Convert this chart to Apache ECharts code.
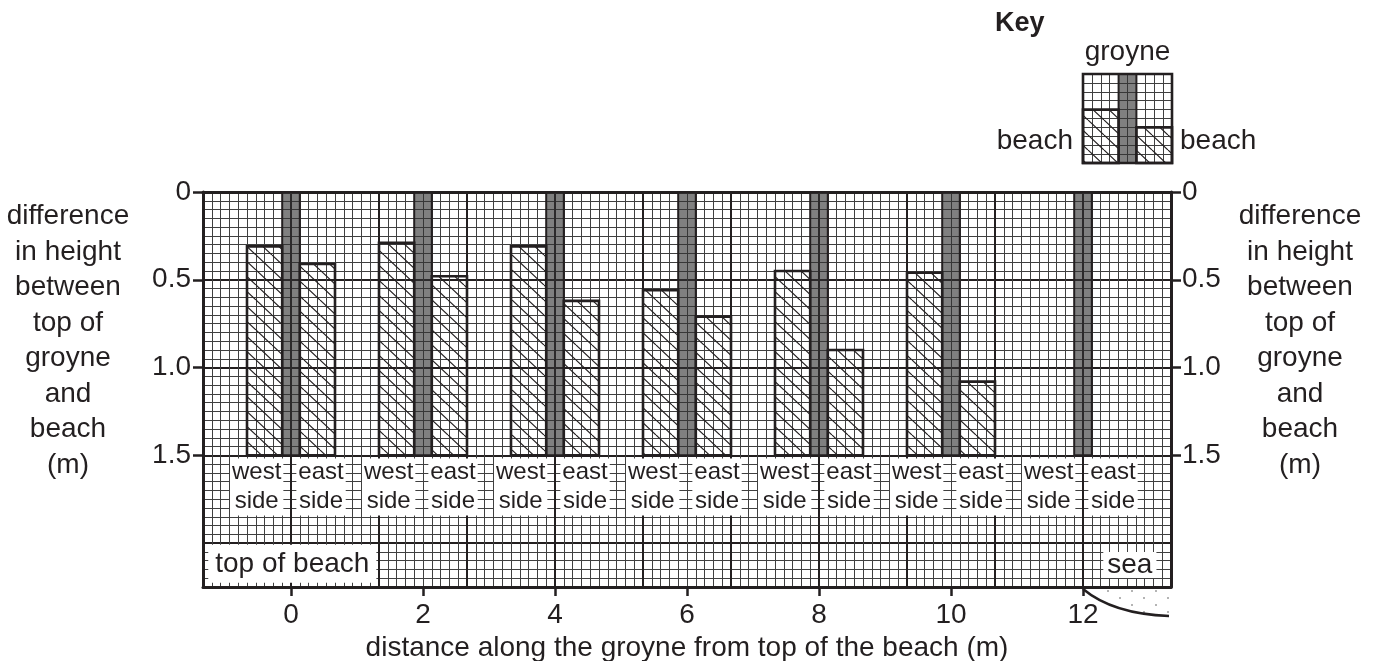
<!DOCTYPE html>
<html>
<head>
<meta charset="utf-8">
<script src="https://cdn.jsdelivr.net/npm/echarts@6/dist/echarts.min.js"></script>
<style>
html,body{margin:0;padding:0;background:#fff;}
#chart{width:1381px;height:661px;}
</style>
</head>
<body>
<div id="chart"></div>
<script>
// ---------------- data ----------------
const distances = [0, 2, 4, 6, 8, 10, 12];
const westSide  = [0.31, 0.29, 0.31, 0.56, 0.45, 0.46, null];
const eastSide  = [0.41, 0.48, 0.62, 0.71, 0.90, 1.08, null];
const groyneTop = [0, 0, 0, 0, 0, 0, 0];
const beachBase = 1.5;
const xTickValues = [0, 2, 4, 6, 8, 10, 12];
const yTickValues = [0, 0.5, 1.0, 1.5];
const sideLabels = ['west\nside', 'east\nside'];
const endLabels = ['top of beach', 'sea'];
const keyWestTop = 4;   // key sample, in key squares
const keyEastTop = 6;
const keyLabels = { title: 'Key', groyne: 'groyne', beach: 'beach' };
const xAxisName = 'distance along the groyne from top of the beach (m)';
const yAxisName = 'difference\nin height\nbetween\ntop of\ngroyne\nand\nbeach\n(m)';

// ---------------- style / geometry ----------------
const INK = '#231f20';
const FONT = '"Liberation Sans", Arial, Helvetica, sans-serif';
const X_MIN = -4 / 3, X_MAX = 40 / 3, Y_MAX = 2.25;
const SQ = 2 / 15;               // one small graph-paper square in x units
const MINOR = { color: '#404040', width: 1 };
const MAJOR = { color: INK, width: 2 };

function makeHatch() {
  const w = 16, h = 15;
  const c = document.createElement('canvas');
  c.width = w; c.height = h;
  const g = c.getContext('2d');
  g.strokeStyle = INK; g.lineWidth = 1.2;
  g.beginPath();
  for (let k = -1; k <= 1; k++) {
    g.moveTo(k * w, 0); g.lineTo(k * w + w, h);
  }
  g.stroke();
  return { image: c, repeat: 'repeat' };
}
function makeDots() {
  const c = document.createElement('canvas');
  c.width = 24; c.height = 14;
  const g = c.getContext('2d');
  g.fillStyle = '#555';
  [[4, 3], [16, 10]].forEach(p => { g.beginPath(); g.arc(p[0], p[1], 0.8, 0, Math.PI * 2); g.fill(); });
  return { image: c, repeat: 'repeat' };
}
const hatch = makeHatch();
const dots = makeDots();

function rectBetween(api, a, b) {
  const p0 = api.coord(a), p1 = api.coord(b);
  return {
    x: Math.min(p0[0], p1[0]), y: Math.min(p0[1], p1[1]),
    width: Math.abs(p1[0] - p0[0]), height: Math.abs(p1[1] - p0[1])
  };
}

const hidden = { axisLine: { show: false }, axisTick: { show: false }, axisLabel: { show: false } };
const nameStyle = { font: '28px ' + FONT, fill: INK, textAlign: 'center', textVerticalAlign: 'top', lineHeight: 35.5 };

const option = {
  animation: false,
  backgroundColor: '#fff',
  textStyle: { fontFamily: FONT, color: INK },
  graphic: [
    { type: 'text', left: 68 - 70, top: 199, style: Object.assign({ text: yAxisName, width: 140, align: 'center' }, nameStyle) },
    { type: 'text', left: 1300 - 70, top: 199, style: Object.assign({ text: yAxisName, width: 140, align: 'center' }, nameStyle) }
  ],
  grid: [
    { left: 203, right: 210, top: 192, bottom: 74, outerBoundsMode: 'none', containLabel: false },
    { left: 1083, top: 74, width: 89, height: 89, outerBoundsMode: 'none', containLabel: false }
  ],
  xAxis: [
    { // 0 visible distance axis
      type: 'value', gridIndex: 0, position: 'bottom', min: X_MIN, max: X_MAX,
      axisLine: { show: true, onZero: false, lineStyle: { color: INK, width: 3 } },
      axisTick: { show: true, customValues: xTickValues, length: 9, lineStyle: { color: INK, width: 2.5 } },
      axisLabel: { show: true, customValues: xTickValues, margin: 14, fontSize: 28, color: INK, fontFamily: FONT,
                   formatter: v => String(v) },
      splitLine: { show: false },
      name: xAxisName, nameLocation: 'middle', nameGap: 44,
      nameTextStyle: { fontSize: 28, color: INK, fontFamily: FONT }
    },
    Object.assign({ type: 'value', gridIndex: 0, position: 'bottom', min: 0, max: 110, interval: 1,
      splitLine: { show: true, lineStyle: MINOR } }, hidden),
    { type: 'value', gridIndex: 0, position: 'top', min: 0, max: 110, interval: 10,
      axisLine: { show: true, onZero: false, lineStyle: { color: INK, width: 3 } },
      axisTick: { show: false }, axisLabel: { show: false },
      splitLine: { show: true, lineStyle: MAJOR } },
    Object.assign({ type: 'value', gridIndex: 1, min: 0, max: 10, interval: 1,
      splitLine: { show: true, lineStyle: MINOR } }, hidden)
  ],
  yAxis: [
    { // 0 left visible
      type: 'value', gridIndex: 0, position: 'left', inverse: true, min: 0, max: Y_MAX,
      axisLine: { show: true, onZero: false, lineStyle: { color: INK, width: 3 } },
      axisTick: { show: true, customValues: yTickValues, length: 10, lineStyle: { color: INK, width: 2.5 } },
      axisLabel: { show: true, customValues: yTickValues, margin: 12, fontSize: 28, color: INK, fontFamily: FONT,
                   formatter: v => (v === 0 ? '0' : v.toFixed(1)) },
      splitLine: { show: false }
    },
    { // 1 right visible
      type: 'value', gridIndex: 0, position: 'right', inverse: true, min: 0, max: Y_MAX,
      axisLine: { show: true, onZero: false, lineStyle: { color: INK, width: 3 } },
      axisTick: { show: true, customValues: yTickValues, length: 10, lineStyle: { color: INK, width: 2.5 } },
      axisLabel: { show: true, customValues: yTickValues, margin: 11, fontSize: 28, color: INK, fontFamily: FONT,
                   formatter: v => (v === 0 ? '0' : v.toFixed(1)) },
      splitLine: { show: false }
    },
    Object.assign({ type: 'value', gridIndex: 0, position: 'left', inverse: true, min: 0, max: 45, interval: 1,
      splitLine: { show: true, lineStyle: MINOR } }, hidden),
    Object.assign({ type: 'value', gridIndex: 0, position: 'right', inverse: true, min: 0, max: 45, interval: 10,
      splitLine: { show: true, lineStyle: MAJOR } }, hidden),
    Object.assign({ type: 'value', gridIndex: 1, inverse: true, min: 0, max: 10, interval: 1,
      splitLine: { show: true, lineStyle: MINOR } }, hidden)
  ],
  series: [
    { // groyne
      name: 'groyne', type: 'custom', xAxisIndex: 0, yAxisIndex: 0, z: 3,
      data: distances.map((d, i) => [d, groyneTop[i]]),
      encode: { x: 0, y: 1 },
      renderItem: (params, api) => ({
        type: 'rect',
        shape: rectBetween(api, [api.value(0) - SQ, api.value(1)], [api.value(0) + SQ, beachBase]),
        style: { fill: 'rgba(50,50,50,0.62)', stroke: INK, lineWidth: 2 }
      })
    },
    { // west side beach
      name: 'beach (west side)', type: 'custom', xAxisIndex: 0, yAxisIndex: 0, z: 4,
      data: distances.map((d, i) => [d, westSide[i]]).filter(p => p[1] != null),
      encode: { x: 0, y: 1 },
      renderItem: (params, api) => ({
        type: 'rect',
        shape: rectBetween(api, [api.value(0) - 5 * SQ, api.value(1)], [api.value(0) - SQ, beachBase]),
        style: { fill: hatch, stroke: INK, lineWidth: 2.6 }
      })
    },
    { // east side beach
      name: 'beach (east side)', type: 'custom', xAxisIndex: 0, yAxisIndex: 0, z: 4,
      data: distances.map((d, i) => [d, eastSide[i]]).filter(p => p[1] != null),
      encode: { x: 0, y: 1 },
      renderItem: (params, api) => ({
        type: 'rect',
        shape: rectBetween(api, [api.value(0) + SQ, api.value(1)], [api.value(0) + 5 * SQ, beachBase]),
        style: { fill: hatch, stroke: INK, lineWidth: 2.6 }
      })
    },
    { // west / east side labels
      name: 'side labels', type: 'custom', xAxisIndex: 0, yAxisIndex: 0, z: 5,
      data: distances.map(d => [d, beachBase]),
      encode: { x: 0, y: 1 },
      renderItem: (params, api) => {
        const x = api.value(0);
        const pw = api.coord([x - 0.52, 1.68]);
        const pe = api.coord([x + 0.455, 1.68]);
        const txt = (p, t) => ({
          type: 'text',
          style: { text: t, x: p[0], y: p[1], align: 'center', verticalAlign: 'middle',
                   fontSize: 24, fontFamily: FONT, lineHeight: 28.5, fill: INK,
                   backgroundColor: '#fff', padding: [0, 2] }
        });
        return { type: 'group', children: [txt(pw, sideLabels[0]), txt(pe, sideLabels[1])] };
      }
    },
    { // end labels + sea shore
      name: 'ends', type: 'custom', xAxisIndex: 0, yAxisIndex: 0, z: 5,
      data: [[distances[0], Y_MAX]],
      encode: { x: 0, y: 1 },
      renderItem: (params, api) => {
        const pTop = api.coord([distances[0] + 0.02, 2.118]);
        const pSea = api.coord([12.71, 2.124]);
        const s = api.coord([distances[distances.length - 1], Y_MAX]);
        const st = [s[0], s[1] + 2], cp = [s[0] + 30, s[1] + 27], en = [s[0] + 86, s[1] + 29];
        const pts = [];
        for (let i = 0; i <= 20; i++) {
          const t = i / 20, u = 1 - t;
          pts.push([u * u * st[0] + 2 * u * t * cp[0] + t * t * en[0], u * u * st[1] + 2 * u * t * cp[1] + t * t * en[1]]);
        }
        pts.push([en[0], st[1]]);
        return { type: 'group', children: [
          { type: 'text', style: { text: endLabels[0], x: pTop[0], y: pTop[1], align: 'center', verticalAlign: 'middle',
              fontSize: 28, fontFamily: FONT, lineHeight: 28, fill: INK, backgroundColor: '#fff', padding: [5, 7] } },
          { type: 'text', style: { text: endLabels[1], x: pSea[0], y: pSea[1], align: 'center', verticalAlign: 'middle',
              fontSize: 28, fontFamily: FONT, lineHeight: 26, fill: INK, backgroundColor: '#fff', padding: [0, 4] } },
          { type: 'polygon', shape: { points: pts }, style: { fill: dots, stroke: null } },
          { type: 'bezierCurve', shape: { x1: st[0], y1: st[1], cpx1: cp[0], cpy1: cp[1], x2: en[0], y2: en[1] },
            style: { fill: null, stroke: INK, lineWidth: 2.5 } }
        ] };
      }
    },
    { // key
      name: 'key', type: 'custom', xAxisIndex: 3, yAxisIndex: 4, z: 5,
      data: [[0, 0]],
      encode: { x: 0, y: 1 },
      renderItem: (params, api) => {
        const o = api.coord([0, 0]);
        const gTop = api.coord([5, 0]);
        const bl = api.coord([0, 7.6]);
        const br = api.coord([10, 7.6]);
        return { type: 'group', children: [
          { type: 'rect', shape: rectBetween(api, [4, 0], [6, 10]),
            style: { fill: 'rgba(50,50,50,0.62)', stroke: INK, lineWidth: 2 } },
          { type: 'rect', shape: rectBetween(api, [0, keyWestTop], [4, 10]),
            style: { fill: hatch, stroke: INK, lineWidth: 2.6 } },
          { type: 'rect', shape: rectBetween(api, [6, keyEastTop], [10, 10]),
            style: { fill: hatch, stroke: INK, lineWidth: 2.6 } },
          { type: 'rect', shape: rectBetween(api, [0, 0], [10, 10]),
            style: { fill: null, stroke: INK, lineWidth: 2.6 } },
          { type: 'text', style: { text: keyLabels.groyne, x: gTop[0], y: gTop[1] - 22, align: 'center', verticalAlign: 'middle',
              fontSize: 28, fontFamily: FONT, fill: INK } },
          { type: 'text', style: { text: keyLabels.beach, x: bl[0] - 10, y: bl[1], align: 'right', verticalAlign: 'middle',
              fontSize: 28, fontFamily: FONT, fill: INK } },
          { type: 'text', style: { text: keyLabels.beach, x: br[0] + 8, y: br[1], align: 'left', verticalAlign: 'middle',
              fontSize: 28, fontFamily: FONT, fill: INK } },
          { type: 'text', style: { text: keyLabels.title, x: o[0] - 88, y: o[1] - 50, align: 'left', verticalAlign: 'middle',
              fontSize: 27, fontWeight: 'bold', fontFamily: FONT, fill: INK } }
        ] };
      }
    }
  ]
};

const chart = echarts.init(document.getElementById('chart'), null, { renderer: 'canvas' });
chart.setOption(option);
</script>
</body>
</html>
